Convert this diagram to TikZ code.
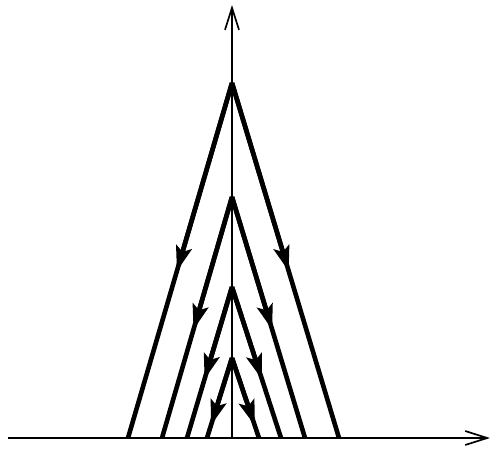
\documentclass[tikz,border=0pt]{standalone}
\usetikzlibrary{arrows.meta,calc}
\tikzset{
  axis/.style={line width=1.7pt,-{Straight Barb[length=22pt,width=14pt,line width=1.7pt]}},
  leg/.style={line width=4.6pt},
  flow/.style={line width=4.6pt,-{Stealth[length=25pt,width=16pt,inset=5pt]}}
}
\newcommand{\tentleg}[3]{%
  \draw[leg] (#1) -- (#2);
  \draw[flow] (#1) -- ($(#1)!#3!(#2)$);}
\begin{document}
\begin{tikzpicture}[x=1pt,y=-1pt]
\useasboundingbox (0,0) rectangle (491,451);
% apexes and feet
\coordinate (A1) at (232,83);  \coordinate (L1) at (128,438); \coordinate (R1) at (339,438);
\coordinate (A2) at (232,197); \coordinate (L2) at (162,438); \coordinate (R2) at (305,438);
\coordinate (A3) at (232,287); \coordinate (L3) at (187,438); \coordinate (R3) at (281,438);
\coordinate (A4) at (232,358); \coordinate (L4) at (207,438); \coordinate (R4) at (259,438);
\coordinate (O) at (232,438);
\coordinate (X0) at (8,438); \coordinate (X1) at (490,438);
\coordinate (Y1) at (232,5);
% axes
\draw[axis] (X0) -- (X1);
\draw[axis] (O) -- (Y1);
% legs
\tentleg{A1}{L1}{0.53}
\tentleg{A1}{R1}{0.53}
\tentleg{A2}{L2}{0.55}
\tentleg{A2}{R2}{0.55}
\tentleg{A3}{L3}{0.61}
\tentleg{A3}{R3}{0.61}
\tentleg{A4}{L4}{0.84}
\tentleg{A4}{R4}{0.84}
\end{tikzpicture}
\end{document}
